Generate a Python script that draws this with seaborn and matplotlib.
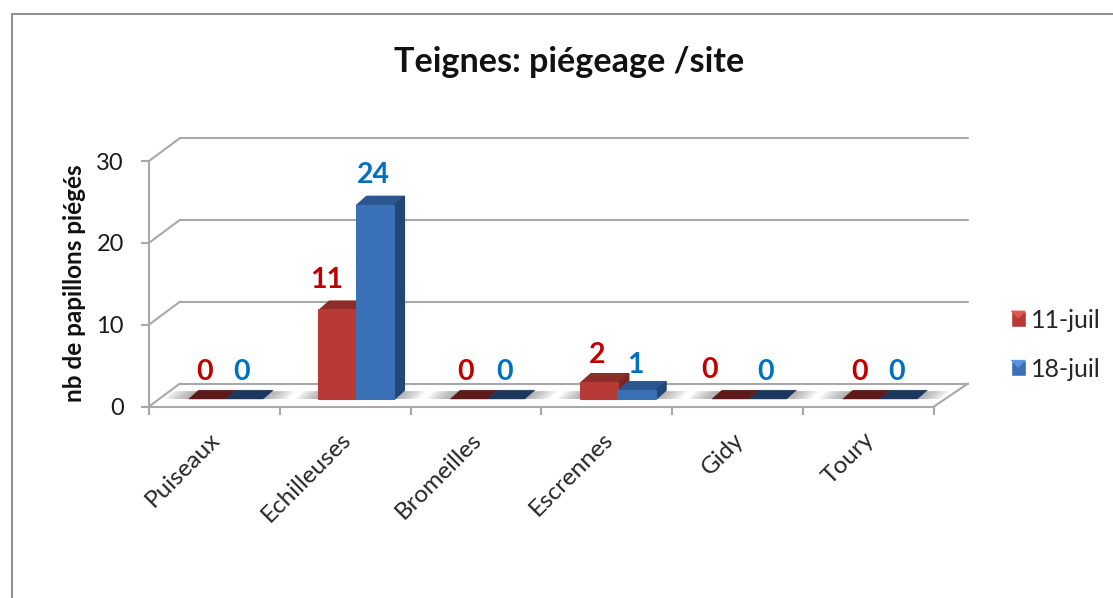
import numpy as np
import pandas as pd
import matplotlib
matplotlib.use('Agg')
import matplotlib.pyplot as plt
import seaborn as sns
from matplotlib.lines import Line2D
from matplotlib.patches import Polygon
from matplotlib.transforms import Affine2D, ScaledTranslation

sites = ['Puiseaux', 'Echilleuses', 'Bromeilles', 'Escrennes', 'Gidy', 'Toury']
juil_11 = [0, 11, 0, 2, 0, 0]
juil_18 = [0, 24, 0, 1, 0, 0]
y_ticks = [0, 10, 20, 30]

W, H = 1113, 598
DEPTH_X, DEPTH_Y = 31, 23      # floor depth in px
BAR_DX, BAR_DY = 11.5, 7.5     # bars stand in the middle of the floor
SIDE_X, SIDE_Y = 10, 9         # depth of one bar in px

df = pd.DataFrame({'site': sites * 2,
                   'date': ['11-juil'] * 6 + ['18-juil'] * 6,
                   'n': juil_11 + juil_18})

sns.set_style('white')
plt.rcParams['font.family'] = ['Lato', 'DejaVu Sans']

fig = plt.figure(figsize=(W / 100, H / 100), dpi=100)
ax = fig.add_axes([149 / W, 1 - 406.5 / H, 785 / W, 245.5 / H])

sns.barplot(data=df, x='site', y='n', hue='date', hue_order=['11-juil', '18-juil'],
            palette=['#b83a37', '#3a70b6'], width=0.57, saturation=1, gap=0, ax=ax)
ax.set_xlim(-0.5, 5.5)
ax.set_ylim(0, 30)

y0 = H - 406.5
bar_tf = ax.transData + Affine2D().translate(0, -y0).scale(1, 0.985).translate(BAR_DX, y0 + BAR_DY)
px_x = 785 / 6
px_y = 245.5 / 30
dx, dy = SIDE_X / px_x, SIDE_Y / px_y

grey = '#a8a8a8'


def wall_line(xs, ys, off0, off1):
    # line whose ends sit on different depths of the floor
    a = ax.transData.transform((xs[0], ys[0])) + off0
    b = ax.transData.transform((xs[1], ys[1])) + off1
    ax.add_line(Line2D([a[0], b[0]], [a[1], b[1]], transform=None, color=grey, lw=1.5,
                       clip_on=False, zorder=1, solid_capstyle='round'))


back = np.array([DEPTH_X, DEPTH_Y])
front = np.array([0, 0])
for t in y_ticks:
    wall_line((-0.5, -0.5), (t, t), front, back)
    wall_line((-0.5, 5.5), (t, t), back, back + [3, 0])
wall_line((-0.5, 5.5), (0, 0), front, front)
wall_line((5.5, 5.5), (0, 0), front, back + [3, 0])

# floor shadow around each pair of bars
for i in range(6):
    red = ax.containers[0][i]
    blue = ax.containers[1][i]
    xl, xr = red.get_x(), blue.get_x() + blue.get_width()
    for k in range(8):
        grow = (k + 1) * 3 / px_x
        h = 8 / px_y
        ax.add_patch(Polygon([(xl - grow, 0), (xr + grow, 0), (xr + grow + dx * 0.8, h), (xl - grow + dx * 0.8, h)],
                             transform=bar_tf, facecolor='#777777', alpha=0.09, lw=0, zorder=2, clip_on=False))

face_cols = {0: ('#8c2d2a', '#7d2725', '#5e1a1a'), 1: ('#2c568f', '#234878', '#1b375e')}
for c, container in enumerate(ax.containers):
    top_col, side_col, flat_col = face_cols[c]
    for bar in container:
        x, w, h = bar.get_x(), bar.get_width(), bar.get_height()
        z = 3 + c * 0.2
        bar.set_transform(bar_tf)
        bar.set_zorder(z + 0.1)
        bar.set_clip_on(False)
        if h == 0:
            bar.set_visible(False)
            ax.add_patch(Polygon([(x, 0), (x + w, 0), (x + w + dx, dy), (x + dx, dy)], transform=bar_tf,
                                 facecolor=flat_col, edgecolor=flat_col, lw=0.3, zorder=z, clip_on=False))
            continue
        bar.set_edgecolor(bar.get_facecolor())
        bar.set_linewidth(1.5)
        bar.set_joinstyle('round')
        ax.add_patch(Polygon([(x, h), (x + w, h), (x + w + dx, h + dy), (x + dx, h + dy)], transform=bar_tf,
                             facecolor=top_col, edgecolor=top_col, lw=1.5, joinstyle='round', zorder=z, clip_on=False))
        ax.add_patch(Polygon([(x + w, 0), (x + w + dx, dy), (x + w + dx, h + dy), (x + w, h)], transform=bar_tf,
                             facecolor=side_col, edgecolor=side_col, lw=1.5, joinstyle='round', zorder=z, clip_on=False))

# data labels, offsets in px from the top of each bar
label_cols = ['#c00000', '#0070c0']
label_dx = [[-3, -11, -3, -3, -21, -2], [-3, -2, -2, -2, -2, -2]]
label_dy = [[27, 30.5, 27, 28, 29, 27], [27, 30.5, 27, 26, 27, 27]]
for c, container in enumerate(ax.containers):
    for i, bar in enumerate(container):
        xc = bar.get_x() + bar.get_width() / 2
        p = bar_tf.transform((xc, bar.get_height()))
        ax.text(p[0] + label_dx[c][i], p[1] + label_dy[c][i], str(int(bar.get_height())), transform=None,
                color=label_cols[c], fontsize=20.5, fontweight='bold', ha='center', va='center', zorder=6)

sns.despine(ax=ax, left=False, bottom=True, right=True, top=True)
ax.patch.set_alpha(0)
ax.spines['left'].set_color(grey)
ax.spines['left'].set_linewidth(1.5)
ax.set_yticks(y_ticks)
ax.set_xticks(np.arange(7) - 0.5, [''] * 7)
ax.set_xticks(np.arange(6), sites, minor=True)
ax.tick_params(axis='y', length=6, width=1.5, color=grey, labelsize=17, labelcolor='#1a1a1a', pad=12, left=True)
ax.tick_params(axis='x', which='major', length=6, width=1.5, color=grey, bottom=True)
ax.tick_params(axis='x', which='minor', length=0, pad=16, labelsize=17.5, labelcolor='#262626')
shift_lbl = ScaledTranslation(-3.5 / 72, 0, fig.dpi_scale_trans)
for lab in ax.get_xticklabels(minor=True):
    lab.set_rotation(45)
    lab.set_ha('right')
    lab.set_va('top')
    lab.set_rotation_mode('anchor')
    lab.set_transform(lab.get_transform() + shift_lbl)
ax.set_xlabel('')
ax.set_ylabel('')

fig.text(75 / W, 1 - 283 / H, 'nb de papillons piégés', rotation=90, ha='center', va='center',
         fontsize=17.5, fontweight='bold', color='#111111')
fig.text(569 / W, 1 - 62 / H, 'Teignes: piégeage /site', ha='center', va='center',
         fontsize=24.6, fontweight='bold', color='#111111')

sns.move_legend(ax, 'upper left', bbox_to_anchor=(988 / W, 1 - 286 / H), bbox_transform=fig.transFigure,
                title=None, frameon=False, handlelength=0.62, handleheight=0.62, handletextpad=0.2,
                labelspacing=1.05, fontsize=18, labelcolor='#262626')

# bevel on the legend keys
fig.canvas.draw()
for handle, col in zip(ax.get_legend().legend_handles, ['#dc5a55', '#5a96e0']):
    ext = handle.get_window_extent()
    fig.add_artist(Polygon([(ext.x0, ext.y1), (ext.x1, ext.y1), ((ext.x0 + ext.x1) / 2, (ext.y0 + ext.y1) / 2)],
                           transform=None, facecolor=col, lw=0, zorder=10))

fig.add_artist(Line2D([12 / W, 1], [1 - 14 / H, 1 - 14 / H], color='#8c8c8c', lw=1.4))
fig.add_artist(Line2D([12 / W, 12 / W], [0, 1 - 14 / H], color='#8c8c8c', lw=1.4))

fig.savefig('out.png', dpi=100, facecolor='white')
